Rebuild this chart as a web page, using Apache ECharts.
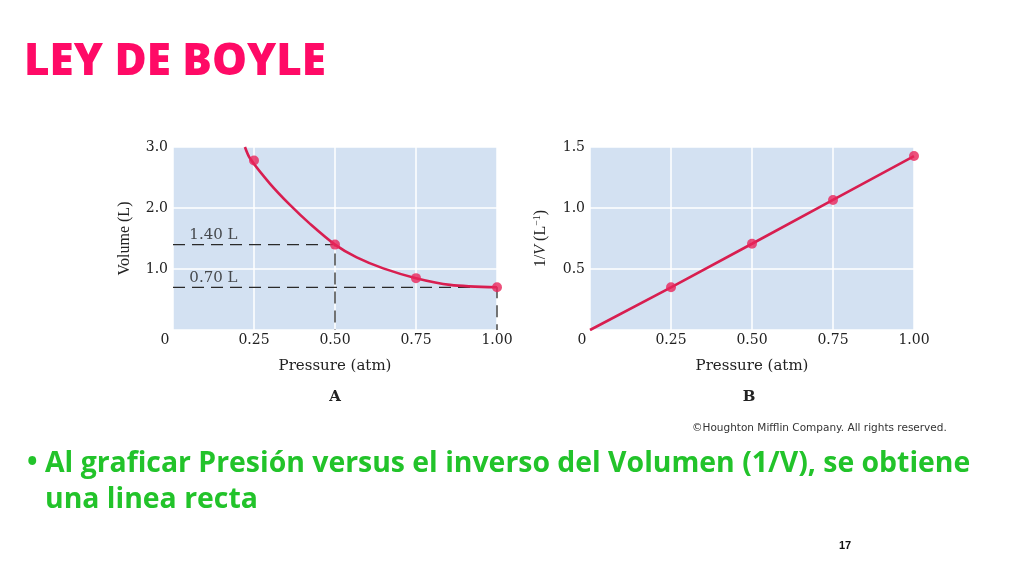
<!DOCTYPE html>
<html>
<head>
<meta charset="utf-8">
<title>Ley de Boyle</title>
<script src="https://cdn.jsdelivr.net/npm/echarts@6/dist/echarts.min.js"></script>
<style>
  html, body { margin: 0; padding: 0; background: #fff; }
  #chart { width: 1024px; height: 576px; }
</style>
</head>
<body>
<div id="chart"></div>
<script>
// Panel A: measured points (pressure atm, volume L)
const pressureA = [0.25, 0.5, 0.75, 1.0];
const volumeA = [2.78, 1.40, 0.85, 0.70];
// Panel A: curve (enters at the top edge)
const curvePressure = [0.222, 0.238, 0.299, 0.361, 0.423, 0.5, 0.567, 0.649, 0.75, 0.855, 1.0];
const curveVolume = [3.0, 2.81, 2.40, 2.05, 1.74, 1.40, 1.19, 1.01, 0.85, 0.74, 0.70];
// Panel A: guide values
const guideLabels = ['1.40 L', '0.70 L'];
const guideVolume = [1.40, 0.70];
const guidePressure = [0.5, 1.0];

// Panel B: 1/V against pressure
const pressureB = [0.25, 0.5, 0.75, 1.0];
const inverseB = [0.35, 0.707, 1.066, 1.426];
const lineStartB = [0, 0];

const serif = '"DejaVu Serif", serif';
const narrowSerif = '"Liberation Serif", serif';
const plotBg = '#d3e1f2';
const red = '#d81e50';

const pairs = (xs, ys) => xs.map((x, i) => [x, ys[i]]);

const chart = echarts.init(document.getElementById('chart'));

function xAxisFor(gridIndex) {
    return {
        gridIndex: gridIndex,
        type: 'value',
        min: 0,
        max: 1,
        interval: 0.25,
        name: 'Pressure (atm)',
        nameLocation: 'middle',
        nameGap: 29,
        nameTextStyle: { fontFamily: serif, fontSize: 15, color: '#222' },
        axisLine: { show: false },
        axisTick: { show: false },
        splitLine: { show: true, lineStyle: { color: '#fff', width: 1.5 } },
        axisLabel: {
            margin: 3,
            fontFamily: serif,
            fontSize: 14,
            color: '#222',
            formatter: v => v === 0 ? '{z|0}' : v.toFixed(2),
            rich: { z: { fontFamily: serif, fontSize: 14, color: '#222', padding: [0, 16, 0, 0] } }
        }
    };
}

function yAxisFor(gridIndex, max, interval, name, nameGap) {
    return {
        gridIndex: gridIndex,
        type: 'value',
        min: 0,
        max: max,
        interval: interval,
        name: name,
        nameLocation: 'middle',
        nameGap: nameGap,
        nameRotate: 90,
        nameTextStyle: {
            fontFamily: narrowSerif, fontSize: 16, color: '#222',
            rich: {
                n: { fontFamily: narrowSerif, fontSize: 16, color: '#222' },
                i: { fontFamily: narrowSerif, fontSize: 16, color: '#222', fontStyle: 'italic' },
                s: { fontFamily: narrowSerif, fontSize: 10, color: '#222', verticalAlign: 'top', padding: [0, 0, 8, 0] }
            }
        },
        axisLine: { show: false },
        axisTick: { show: false },
        splitLine: { show: true, lineStyle: { color: '#fff', width: 1.5 } },
        axisLabel: {
            margin: 5,
            fontFamily: serif,
            fontSize: 14,
            color: '#222',
            formatter: v => v === 0 ? '' : v.toFixed(1)
        }
    };
}

const dashStyle = { color: '#2a2a2a', width: 1.3, type: [12, 7] };
const textShadow = { shadowColor: 'rgba(0,0,0,0.3)', shadowBlur: 1, shadowOffsetX: 1, shadowOffsetY: 1 };

chart.setOption({
    animation: false,
    backgroundColor: '#fff',
    grid: [
        { left: 173, top: 147, width: 324, height: 183, show: true, backgroundColor: plotBg, borderWidth: 0 },
        { left: 590, top: 147, width: 324, height: 183, show: true, backgroundColor: plotBg, borderWidth: 0 }
    ],
    xAxis: [xAxisFor(0), xAxisFor(1)],
    yAxis: [
        yAxisFor(0, 3, 1, 'Volume (L)', 40),
        yAxisFor(1, 1.5, 0.5, '{n|1/}{i|V}{n| (L}{s|−1}{n|)}', 40)
    ],
    graphic: [
        {
            type: 'text', x: 24, y: 62,
            style: Object.assign({
                text: 'LEY DE BOYLE', font: '800 44px "Open Sans", Lato, sans-serif',
                fill: '#ff0a66', verticalAlign: 'middle'
            }, { shadowColor: 'rgba(0,0,0,0.35)', shadowBlur: 2, shadowOffsetX: 1.5, shadowOffsetY: 1.5 })
        },
        {
            type: 'text', x: 335, y: 397,
            style: { text: 'A', font: 'bold 15px ' + serif, fill: '#222', align: 'center', verticalAlign: 'middle' }
        },
        {
            type: 'text', x: 749, y: 397,
            style: { text: 'B', font: 'bold 15px ' + serif, fill: '#222', align: 'center', verticalAlign: 'middle' }
        },
        {
            type: 'text', x: 692, y: 428,
            style: { text: '©Houghton Mifflin Company. All rights reserved.', font: '10.5px "DejaVu Sans", sans-serif', fill: '#333', verticalAlign: 'middle' }
        },
        {
            type: 'text', x: 27, y: 463,
            style: Object.assign({
                text: '•', font: 'bold 28px "Open Sans", sans-serif', fill: '#22c32a', verticalAlign: 'middle'
            }, textShadow)
        },
        {
            type: 'text', x: 45, y: 446,
            style: Object.assign({
                text: 'Al graficar Presión versus el inverso del Volumen (1/V), se obtiene\nuna linea recta',
                font: 'bold 28.4px "Open Sans", sans-serif', fill: '#22c32a', verticalAlign: 'top', lineHeight: 36
            }, textShadow)
        },
        {
            type: 'text', x: 845, y: 546,
            style: { text: '17', font: 'bold 11px "Liberation Sans", sans-serif', fill: '#111', align: 'center', verticalAlign: 'middle' }
        }
    ],
    series: [
        // Panel A guide lines
        {
            type: 'line', xAxisIndex: 0, yAxisIndex: 0, symbol: 'none', silent: true,
            data: [[0, guideVolume[0]], [guidePressure[0], guideVolume[0]], [guidePressure[0], 0]],
            lineStyle: dashStyle, z: 2
        },
        {
            type: 'line', xAxisIndex: 0, yAxisIndex: 0, symbol: 'none', silent: true,
            data: [[0, guideVolume[1]], [guidePressure[1], guideVolume[1]], [guidePressure[1], 0]],
            lineStyle: dashStyle, z: 2
        },
        {
            type: 'scatter', xAxisIndex: 0, yAxisIndex: 0, symbolSize: 0, silent: true,
            data: guideVolume.map((v, i) => ({ value: [0.035, v], name: guideLabels[i] })),
            label: {
                show: true, position: 'right', offset: [0, -9], formatter: '{b}',
                fontFamily: serif, fontSize: 15, color: '#222'
            }
        },
        // Panel A curve and points
        {
            type: 'line', xAxisIndex: 0, yAxisIndex: 0, smooth: 0.3, symbol: 'none',
            data: pairs(curvePressure, curveVolume),
            lineStyle: { color: red, width: 2.6 }, z: 3
        },
        {
            type: 'scatter', xAxisIndex: 0, yAxisIndex: 0, symbolSize: 10,
            data: pairs(pressureA, volumeA),
            itemStyle: { color: '#e8245a' }, z: 4
        },
        // Panel B straight line and points
        {
            type: 'line', xAxisIndex: 1, yAxisIndex: 1, symbol: 'none',
            data: [lineStartB].concat(pairs(pressureB, inverseB)),
            lineStyle: { color: red, width: 2.6 }, z: 3
        },
        {
            type: 'scatter', xAxisIndex: 1, yAxisIndex: 1, symbolSize: 10,
            data: pairs(pressureB, inverseB),
            itemStyle: { color: '#e8245a' }, z: 4
        }
    ]
});
</script>
</body>
</html>
